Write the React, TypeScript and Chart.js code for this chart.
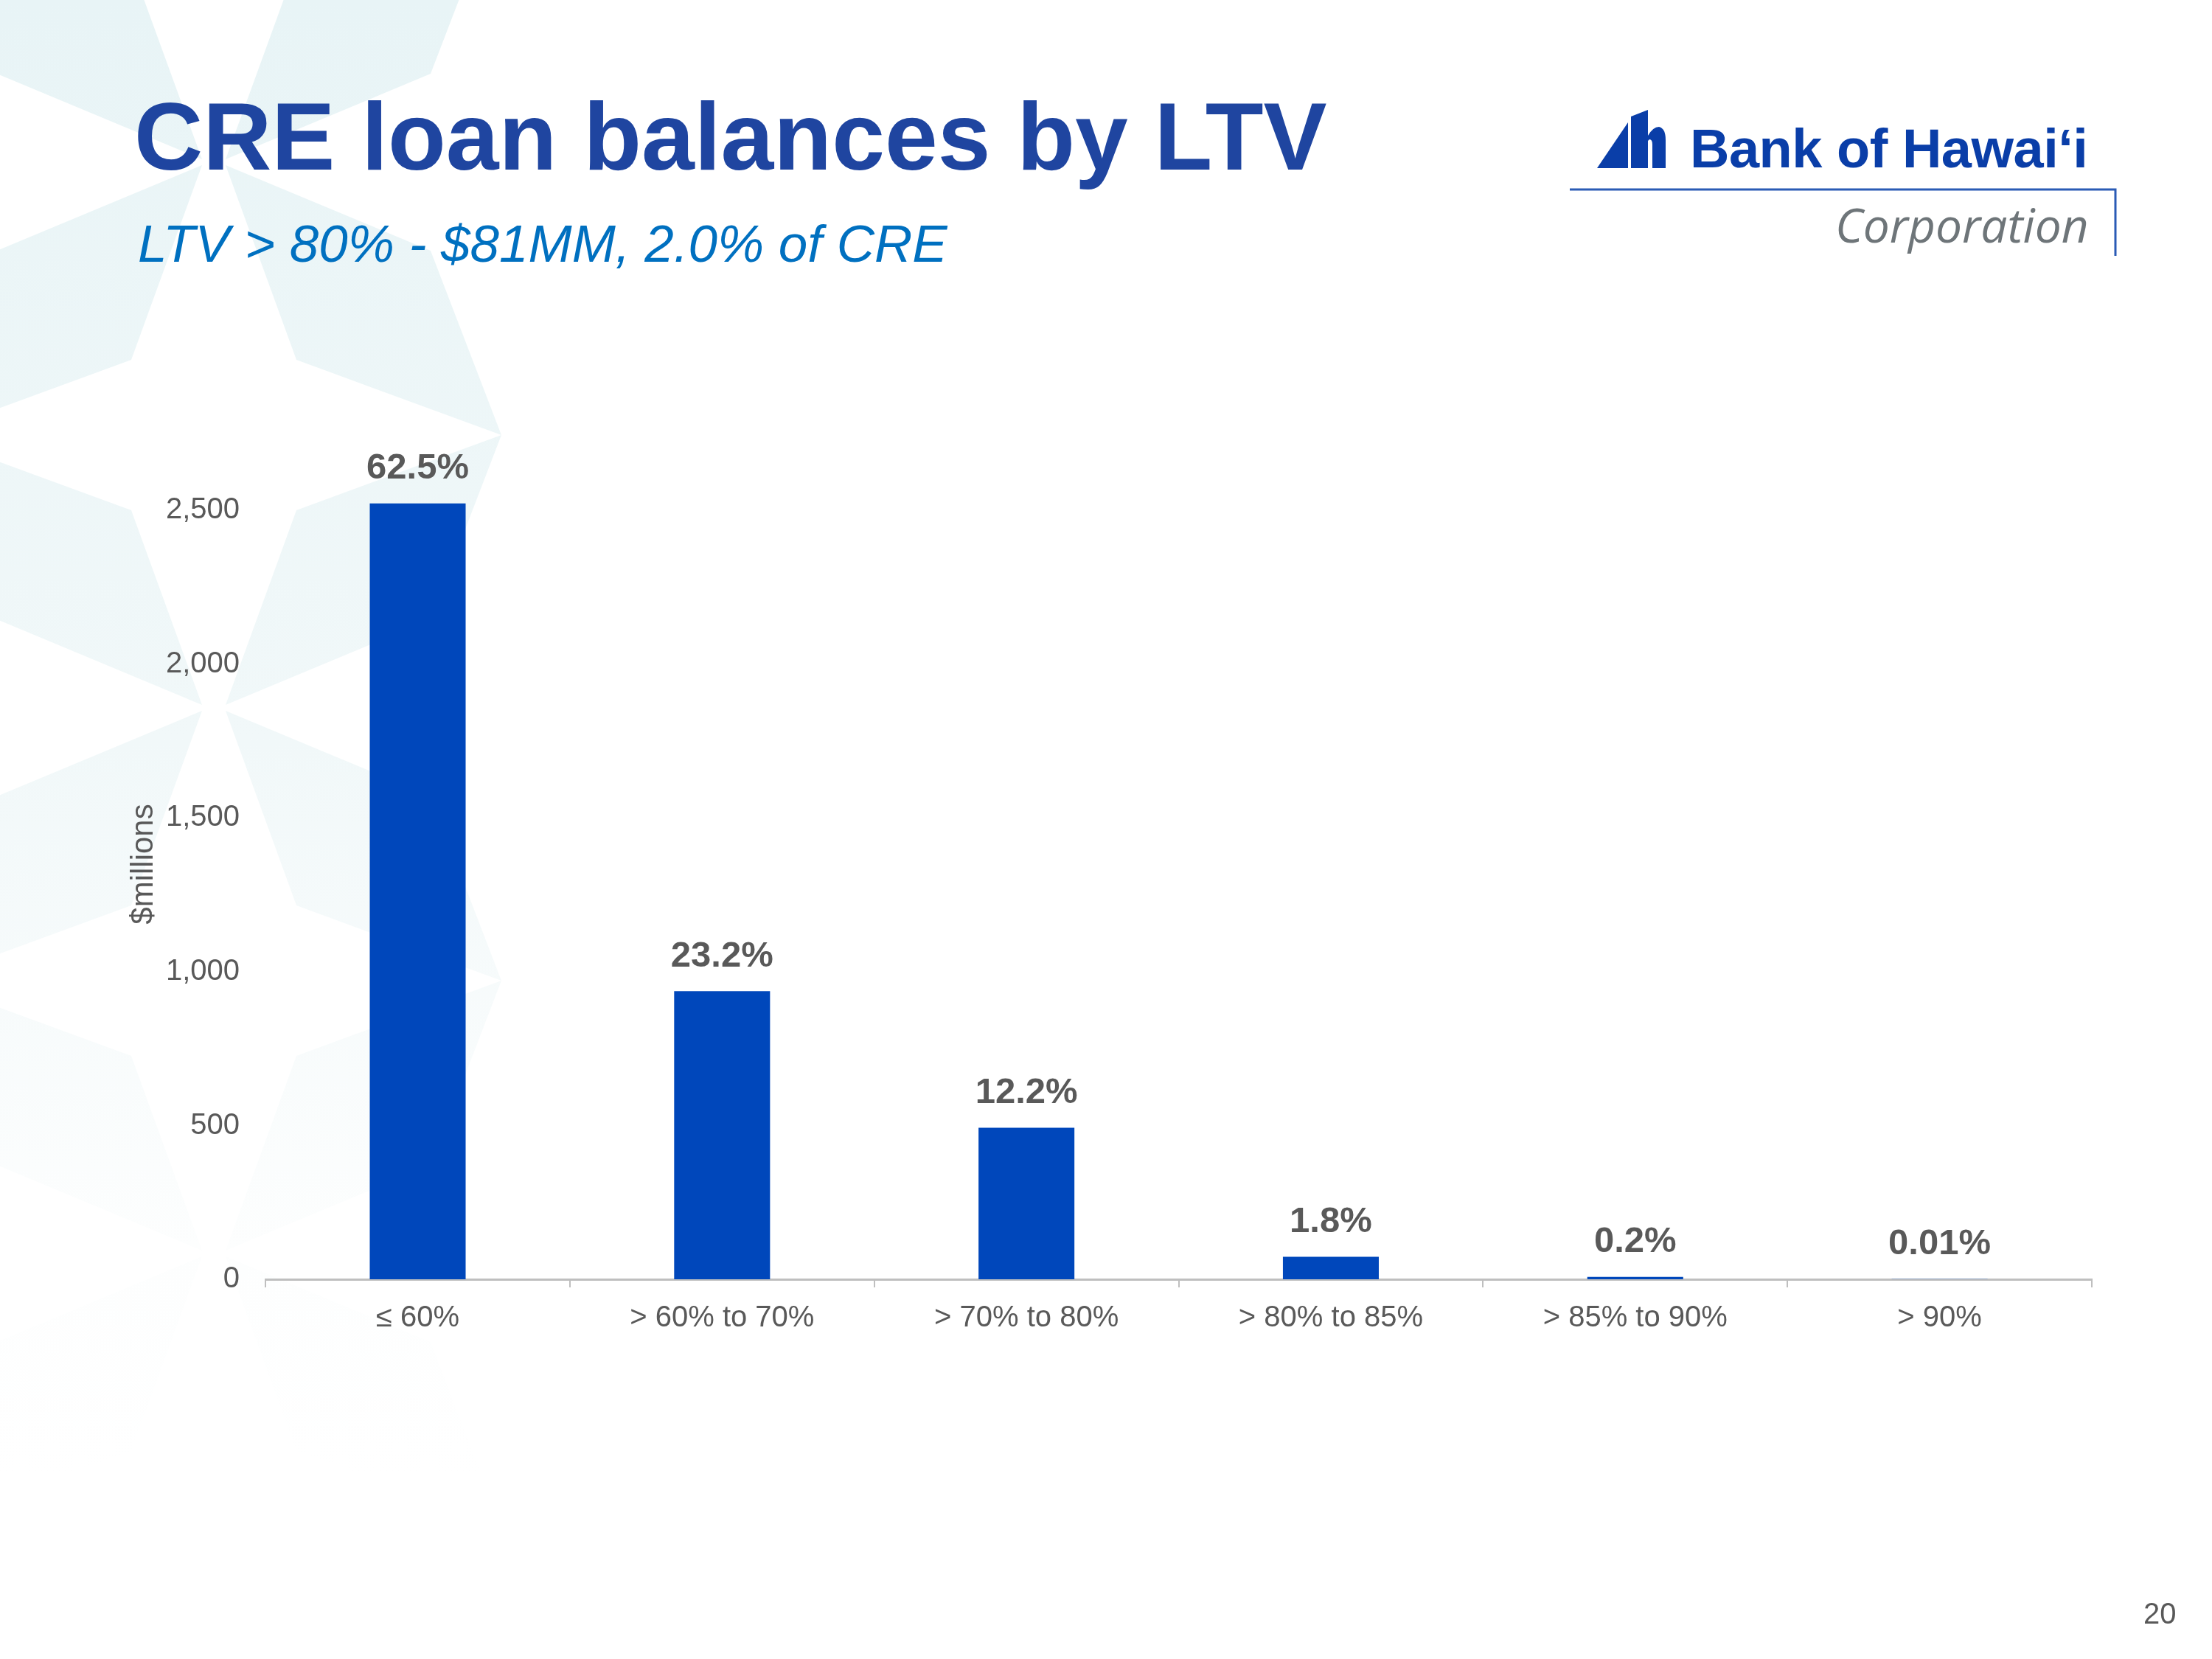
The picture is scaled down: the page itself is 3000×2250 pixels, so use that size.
import React, { useEffect, useRef } from 'react';
import { Chart, registerables } from 'chart.js';

Chart.register(...registerables);

// ---- data ----
const categories = ['≤ 60%', '> 60% to 70%', '> 70% to 80%', '> 80% to 85%', '> 85% to 90%', '> 90%'];
const balances = [2523, 937, 493, 73, 8, 0.4];
const shareLabels = ['62.5%', '23.2%', '12.2%', '1.8%', '0.2%', '0.01%'];
const yTicks = [0, 500, 1000, 1500, 2000, 2500];

const FONT = '"Liberation Sans", Arial, Helvetica, sans-serif';
const GREY = '#595959';
const BAR = '#0047BB';

// decorative background kites (lattice based)
const kiteVertices: [number, number][] = [
  [290, 220],
  [290, 960],
  [290, 1700],
];
function kitePoints(v: [number, number], sx: number, sy: number): string {
  const pts = [
    [v[0] + sx * 16, v[1] + sy * 4],
    [v[0] + sx * 112, v[1] + sy * 268],
    [v[0] + sx * 390, v[1] + sy * 370],
    [v[0] + sx * 294, v[1] + sy * 120],
  ];
  return pts.map((p) => p.join(',')).join(' ');
}

const dataLabelPlugin = {
  id: 'dataLabels',
  afterDatasetsDraw(chart: any) {
    const ctx = chart.ctx;
    const meta = chart.getDatasetMeta(0);
    ctx.save();
    ctx.font = `bold 49px ${FONT}`;
    ctx.fillStyle = GREY;
    ctx.textAlign = 'center';
    ctx.textBaseline = 'middle';
    meta.data.forEach((el: any, i: number) => {
      ctx.fillText(shareLabels[i], el.x, el.y - 47);
    });
    ctx.restore();
  },
};

export default function App() {
  const ref = useRef<HTMLCanvasElement>(null);

  useEffect(() => {
    const canvas = ref.current;
    if (!canvas) return;
    const chart = new Chart(canvas, {
      type: 'bar',
      data: {
        labels: categories,
        datasets: [
          {
            data: balances,
            backgroundColor: BAR,
            barPercentage: 0.315,
            categoryPercentage: 1,
          },
        ],
      },
      options: {
        responsive: false,
        animation: false,
        devicePixelRatio: 1,
        layout: { padding: { left: 170.6, right: 163, top: 609, bottom: 420 } },
        plugins: {
          legend: { display: false },
          tooltip: { enabled: false },
        },
        scales: {
          x: {
            grid: {
              display: true,
              drawOnChartArea: false,
              drawTicks: true,
              tickLength: 11,
              color: '#BFBFBF',
              lineWidth: 2,
            },
            border: { display: true, color: '#BFBFBF', width: 3 },
            ticks: {
              color: GREY,
              font: { family: FONT, size: 40 },
              padding: 18,
              maxRotation: 0,
              autoSkip: false,
            },
          },
          y: {
            min: 0,
            max: 2700,
            grid: { display: false, drawTicks: false },
            border: { display: false },
            afterBuildTicks: (scale: any) => {
              scale.ticks = yTicks.map((v) => ({ value: v }));
            },
            ticks: {
              color: GREY,
              font: { family: FONT, size: 40 },
              padding: 35,
              callback: (v: any) => Number(v).toLocaleString('en-US'),
            },
            title: {
              display: true,
              text: '$millions',
              color: GREY,
              font: { family: FONT, size: 42 },
              padding: { top: 0, bottom: -31 },
            },
          },
        },
      },
      plugins: [dataLabelPlugin],
    } as any);
    return () => chart.destroy();
  }, []);

  const kites: string[] = [];
  kiteVertices.forEach((v) => {
    [-1, 1].forEach((sx) => {
      [-1, 1].forEach((sy) => {
        kites.push(kitePoints(v, sx, sy));
      });
    });
  });

  return (
    <div
      style={{
        position: 'fixed',
        left: 0,
        top: 0,
        width: 3000,
        height: 2250,
        background: '#ffffff',
        overflow: 'hidden',
        fontFamily: FONT,
      }}
    >
      <svg
        width={3000}
        height={2250}
        style={{ position: 'absolute', left: 0, top: 0 }}
      >
        <defs>
          <linearGradient id="bgfade" gradientUnits="userSpaceOnUse" x1="0" y1="0" x2="0" y2="2000">
            <stop offset="0" stopColor="#E8F4F6" />
            <stop offset="0.5" stopColor="#F1F8F9" />
            <stop offset="0.85" stopColor="#FDFEFE" />
            <stop offset="1" stopColor="#FFFFFF" />
          </linearGradient>
        </defs>
        {kites.map((p, i) => (
          <polygon key={i} points={p} fill="url(#bgfade)" />
        ))}
        {/* logo mark */}
        <polygon points="2166,228 2208,166 2208,228" fill="#0A3EA8" />
        <path
          d="M2212,228 L2212,158 L2235,149 L2235,184 Q2242,172 2250,172 Q2259,174 2259,190 L2259,228 L2241,228 L2241,196 Q2241,189 2237,189 L2235,191 L2235,228 Z"
          fill="#0A3EA8"
        />
        {/* logo rule */}
        <polyline points="2129,257 2869,257 2869,347" fill="none" stroke="#2A5BB5" strokeWidth={3} />
      </svg>

      <div
        style={{
          position: 'absolute',
          left: 182,
          top: 121,
          fontSize: 129,
          lineHeight: 1,
          fontWeight: 'bold',
          color: '#1F45A0',
          whiteSpace: 'nowrap',
        }}
      >
        CRE loan balances by LTV
      </div>
      <div
        style={{
          position: 'absolute',
          left: 187,
          top: 295,
          fontSize: 71,
          lineHeight: 1,
          fontStyle: 'italic',
          color: '#0070C0',
          whiteSpace: 'nowrap',
        }}
      >
        LTV &gt; 80% - $81MM, 2.0% of CRE
      </div>

      <div
        style={{
          position: 'absolute',
          left: 2292,
          top: 165,
          fontSize: 74,
          lineHeight: 1,
          fontWeight: 'bold',
          color: '#0A3EA8',
          whiteSpace: 'nowrap',
          letterSpacing: -0.5,
        }}
      >
        Bank of Hawaiʻi
      </div>
      <div
        style={{
          position: 'absolute',
          left: 2489,
          top: 273,
          fontSize: 64,
          lineHeight: 1,
          fontStyle: 'italic',
          fontFamily: '"Open Sans", "Noto Sans", sans-serif',
          color: '#6E7579',
          whiteSpace: 'nowrap',
        }}
      >
        Corporation
      </div>

      <canvas
        ref={ref}
        width={3000}
        height={2250}
        style={{ position: 'absolute', left: 0, top: 0, width: 3000, height: 2250 }}
      />

      <div
        style={{
          position: 'absolute',
          left: 2907,
          top: 2168,
          fontSize: 40,
          lineHeight: 1,
          color: GREY,
          whiteSpace: 'nowrap',
        }}
      >
        20
      </div>
    </div>
  );
}
